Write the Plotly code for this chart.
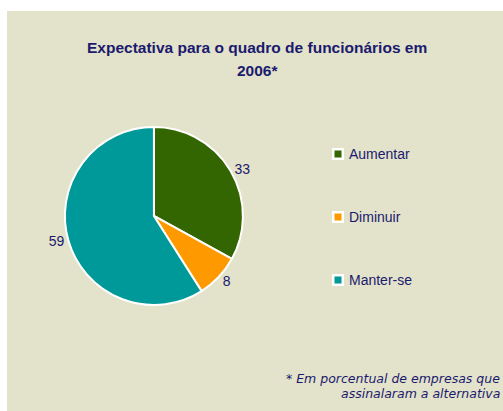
import plotly.graph_objects as go

categories = ["Aumentar", "Diminuir", "Manter-se"]
values = [33, 8, 59]
colors = ["#336600", "#FF9900", "#009999"]

NAVY = "#1a1a6e"
BG = "#E3E2CA"
W, H = 503, 411

fig = go.Figure()

fig.add_trace(go.Pie(
    labels=categories,
    values=values,
    sort=False,
    direction="clockwise",
    rotation=0,
    marker=dict(colors=colors, line=dict(color="white", width=2)),
    textinfo="value",
    textposition="outside",
    textfont=dict(family="Liberation Sans, Arial", size=14, color=NAVY),
    domain=dict(x=[0.1, 0.512], y=[0.258, 0.691]),
    showlegend=False,
    hoverinfo="label+value",
))

# background panel
fig.add_shape(type="rect", xref="paper", yref="paper", x0=7 / W, x1=1, y0=0, y1=1 - 11 / H,
              fillcolor=BG, line=dict(width=0), layer="below")

# legend drawn by hand so the spacing matches
legend_y = [154, 217, 280]
for name, col, py in zip(categories, colors, legend_y):
    yc = 1 - py / H
    fig.add_shape(type="rect", xref="paper", yref="paper",
                  x0=332 / W, x1=344 / W, y0=yc - 6 / H, y1=yc + 6 / H,
                  fillcolor="white", line=dict(width=0))
    fig.add_shape(type="rect", xref="paper", yref="paper",
                  x0=334.5 / W, x1=341.5 / W, y0=yc - 3.5 / H, y1=yc + 3.5 / H,
                  fillcolor=col, line=dict(width=0))
    fig.add_annotation(x=347 / W, y=yc, xref="paper", yref="paper", xanchor="left", yanchor="middle",
                       text=name, showarrow=False,
                       font=dict(family="Liberation Sans, Arial", size=14, color=NAVY))

# title
for txt, py in [("Expectativa para o quadro de funcionários em", 48), ("2006*", 70)]:
    fig.add_annotation(
        x=257 / W, y=1 - py / H, xref="paper", yref="paper", xanchor="center", yanchor="middle",
        text=f"<b>{txt}</b>", showarrow=False,
        font=dict(family="Liberation Sans, Arial", size=15.5, color=NAVY),
    )

# footnote
for txt, py in [("* Em porcentual de empresas que", 378), ("assinalaram a alternativa", 393)]:
    fig.add_annotation(
        x=502 / W, y=1 - py / H, xref="paper", yref="paper", xanchor="right", yanchor="middle",
        text=f"<i>{txt}</i>", showarrow=False,
        font=dict(family="DejaVu Sans, Verdana", size=12.5, color=NAVY),
    )

fig.update_layout(
    width=W, height=H,
    margin=dict(l=0, r=0, t=0, b=0),
    paper_bgcolor="white",
    plot_bgcolor="rgba(0,0,0,0)",
    showlegend=False,
)

fig.write_html("out.html", config=dict(displayModeBar=False),
               post_script="document.body.style.margin='0';document.body.style.overflow='hidden';")
